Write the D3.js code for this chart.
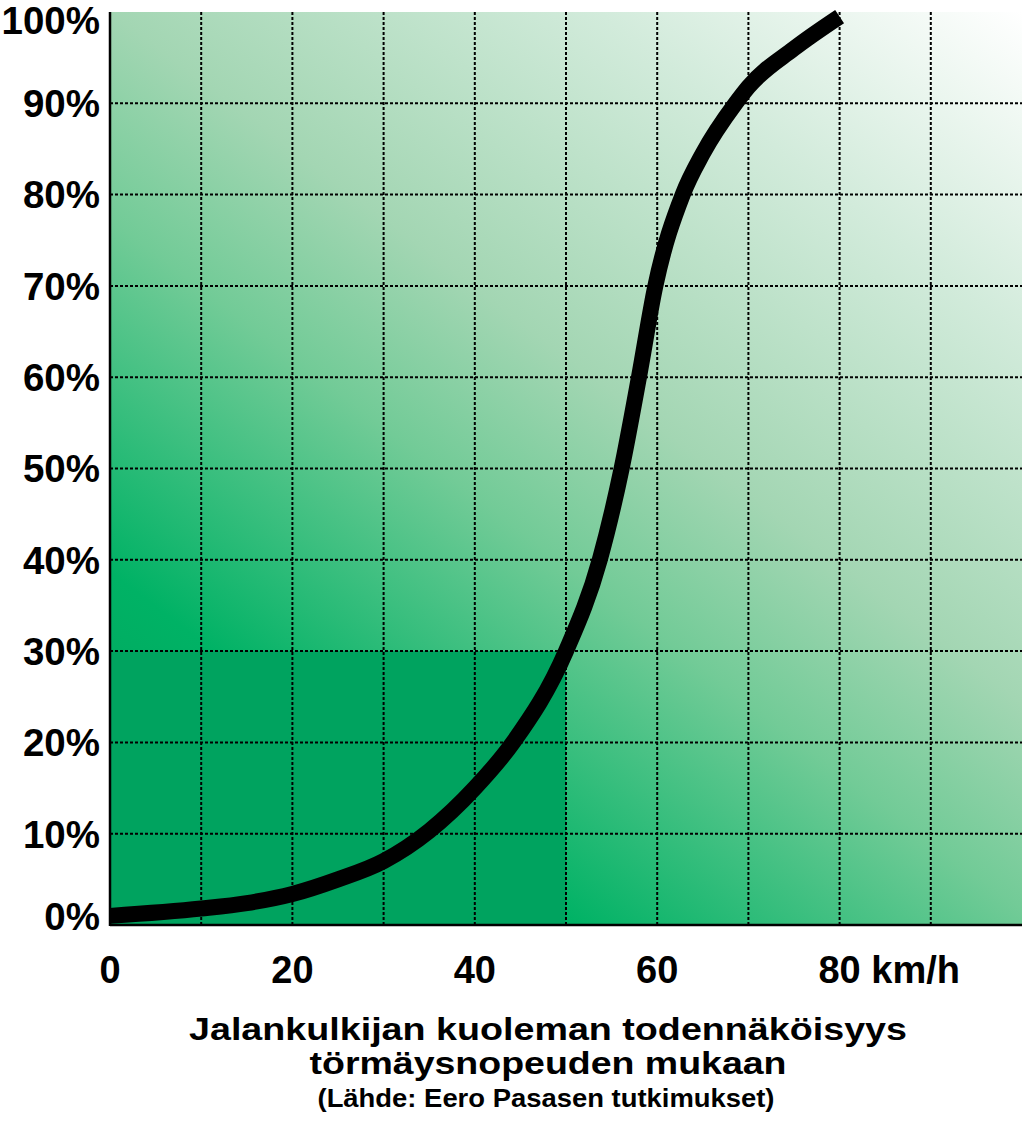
<!DOCTYPE html>
<html>
<head>
<meta charset="utf-8">
<script src="https://cdn.jsdelivr.net/npm/d3@7/dist/d3.min.js"></script>
<style>
  html, body { margin: 0; padding: 0; background: #fff; }
  svg { display: block; }
  text { font-family: "Liberation Sans", Arial, sans-serif; }
</style>
</head>
<body>
<svg id="chart" width="1024" height="1128"></svg>
<script>
// ---- data ----
const speedKmh = [0, 10, 15, 20, 25, 30, 35, 40, 44.2, 50, 53.7, 56.1, 58, 59.8, 62.8, 65, 68.6, 70, 75, 80];
const deathRiskPct = [1, 1.8, 2.4, 3.4, 5, 7, 10.3, 15, 20, 30, 40, 50, 60, 70, 80, 84.5, 90, 91.8, 96, 99.5];
const xTicks = [0, 20, 40, 60, 80];
const xTickLabels = ["0", "20", "40", "60", "80 km/h"];
const yTicks = [0, 10, 20, 30, 40, 50, 60, 70, 80, 90, 100];
const yTickLabels = ["0%", "10%", "20%", "30%", "40%", "50%", "60%", "70%", "80%", "90%", "100%"];
const gridX = [10, 20, 30, 40, 50, 60, 70, 80, 90];
const gridY = [10, 20, 30, 40, 50, 60, 70, 80, 90];
const highlightZone = { speedMax: 50, riskMax: 30 };
const titleLines = ["Jalankulkijan kuoleman todennäköisyys", "törmäysnopeuden mukaan"];
const sourceLine = "(Lähde: Eero Pasasen tutkimukset)";

(function () {
// ---- layout ----
const pL = 110, pR = 1022, pT = 12, pB = 925;
const svg = d3.select("#chart");
const x = d3.scaleLinear().domain([0, 100]).range([pL, pR]);
const y = d3.scaleLinear().domain([0, 100]).range([pB, pT]);

// gradient background
const defs = svg.append("defs");
const grad = defs.append("linearGradient")
  .attr("id", "bg").attr("gradientUnits", "userSpaceOnUse")
  .attr("x1", pL).attr("y1", pB).attr("x2", 882).attr("y2", -94);
[[0, "#009e58"], [0.22, "#00b265"], [0.44, "#72cb97"], [0.57, "#a3d6b3"], [0.8, "#d2ebdb"], [0.95, "#f4faf6"], [1, "#ffffff"]]
  .forEach(([o, c]) => grad.append("stop").attr("offset", o).attr("stop-color", c));

svg.append("rect").attr("x", pL).attr("y", pT)
  .attr("width", pR - pL).attr("height", pB - pT).attr("fill", "url(#bg)");

svg.append("rect")
  .attr("x", x(0)).attr("y", y(highlightZone.riskMax))
  .attr("width", x(highlightZone.speedMax) - x(0))
  .attr("height", y(0) - y(highlightZone.riskMax))
  .attr("fill", "#00a35f");

// grid
const grid = svg.append("g").attr("stroke", "#000").attr("stroke-width", 2).attr("stroke-dasharray", "3,2");
grid.selectAll("line.v").data(gridX).enter().append("line").attr("class", "v")
  .attr("x1", d => x(d)).attr("x2", d => x(d)).attr("y1", pT).attr("y2", pB);
grid.selectAll("line.h").data(gridY).enter().append("line").attr("class", "h")
  .attr("x1", pL).attr("x2", pR).attr("y1", d => y(d)).attr("y2", d => y(d));

// axes lines
svg.append("line").attr("x1", pL).attr("x2", pL).attr("y1", pT).attr("y2", pB + 1)
  .attr("stroke", "#000").attr("stroke-width", 2.5);
svg.append("line").attr("x1", pL).attr("x2", pR).attr("y1", pB).attr("y2", pB)
  .attr("stroke", "#000").attr("stroke-width", 2.5);

// curve
const line = d3.line().x((d, i) => x(speedKmh[i])).y(d => y(d)).curve(d3.curveMonotoneX);
svg.append("path").datum(deathRiskPct).attr("d", line)
  .attr("fill", "none").attr("stroke", "#000").attr("stroke-width", 16)
  .attr("stroke-linecap", "butt").attr("stroke-linejoin", "round");

// y labels
svg.append("g").selectAll("text").data(yTicks).enter().append("text")
  .attr("x", 100).attr("y", d => Math.min(Math.max(y(d), 20), 916))
  .attr("dy", "0.36em").attr("text-anchor", "end")
  .attr("font-size", 38.5).attr("font-weight", "bold").attr("fill", "#000")
  .text((d, i) => yTickLabels[i]);

// x labels
svg.append("g").selectAll("text").data(xTicks).enter().append("text")
  .attr("x", d => x(d)).attr("y", 983)
  .attr("font-size", 38).attr("font-weight", "bold").attr("fill", "#000")
  .attr("text-anchor", "middle")
  .text((d, i) => xTickLabels[i])
  .each(function (d, i) {
    const lbl = xTickLabels[i];
    if (lbl.indexOf(" ") > 0) {
      const num = lbl.split(" ")[0];
      const tmp = svg.append("text").attr("font-size", 38).attr("font-weight", "bold").text(num);
      const w = tmp.node().getComputedTextLength();
      tmp.remove();
      d3.select(this).attr("text-anchor", "start").attr("x", x(d) - w / 2);
    }
  });

// titles
const titleW = [718, 477];
const titleY = [1040, 1074];
titleLines.forEach((t, i) => {
  svg.append("text").attr("x", 548).attr("y", titleY[i]).attr("text-anchor", "middle")
    .attr("font-size", 32).attr("font-weight", "bold").attr("fill", "#000")
    .attr("textLength", titleW[i]).attr("lengthAdjust", "spacingAndGlyphs")
    .text(t);
});
svg.append("text").attr("x", 546).attr("y", 1107).attr("text-anchor", "middle")
  .attr("font-size", 26).attr("font-weight", "bold").attr("fill", "#000")
  .attr("textLength", 457).attr("lengthAdjust", "spacingAndGlyphs")
  .text(sourceLine);
})();
</script>
</body>
</html>
